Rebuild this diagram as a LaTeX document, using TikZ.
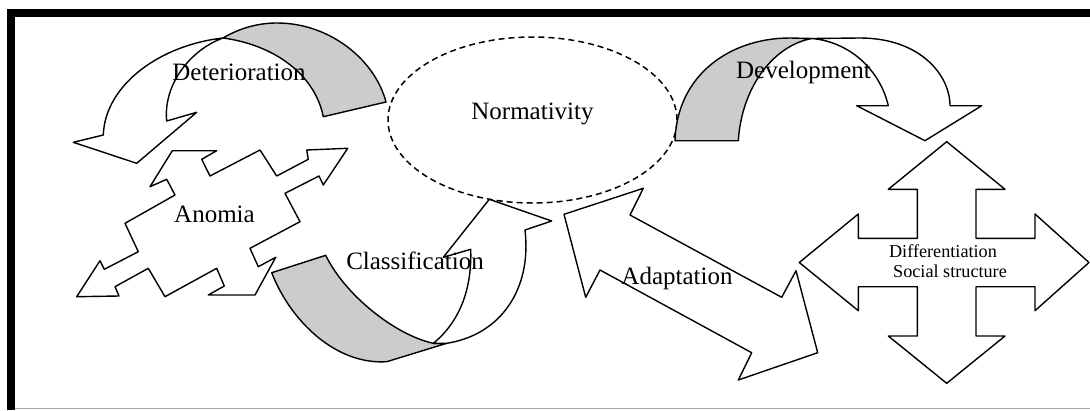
\documentclass[tikz,border=0pt]{standalone}
\usepackage{fontspec}
\setmainfont{Liberation Serif}[Ligatures=NoCommon]
\begin{document}
\begin{tikzpicture}[x=1pt,y=-1pt,
  front/.style={draw=black,line width=1.4pt,fill=white,line join=round},
  back/.style={front,fill=gray!40},
  lbl/.style={anchor=base,inner sep=0pt,font=\fontsize{25}{28}\selectfont},
  slbl/.style={anchor=base,inner sep=0pt,font=\fontsize{18.2}{20}\selectfont}]
\useasboundingbox (0,0) rectangle (1090,410);
\fill[white] (0,0) rectangle (1090,410);
% frame
\fill[black] (7,9) rectangle (1090,17);
\fill[black] (7,9) rectangle (15,410);
\draw[gray!70,line width=1.5pt] (15,408.7) -- (1090,408.7);
% Normativity ellipse
\draw[dashed,line width=1.5pt,dash pattern=on 6pt off 4pt] (532.5,120) ellipse [x radius=144.5pt,y radius=83pt];
% Deterioration
\draw[back] (323.3,116.7) .. controls (315,75) and (275,45) .. (223,38)
  .. controls (240,28) and (258,23) .. (277,23)
  .. controls (330,23) and (375,60) .. (386,102) -- cycle;
\draw[front] (73.3,142.3) -- (136.7,163.3) -- (196.7,112.3) -- (166.7,121)
  .. controls (163,85) and (190,50) .. (223,38)
  .. controls (160,45) and (105,85) .. (103.3,135) -- cycle;
% Development
\draw[back] (675,140.7) .. controls (677,75) and (730,38) .. (790,38) -- (812,38.5)
  .. controls (775,45) and (742,85) .. (738.3,140.7) -- cycle;
\draw[front] (860,38) .. controls (920,38) and (950,75) .. (950,105.7) -- (981.7,105.7)
  -- (925,140.7) -- (856.7,105.7) -- (888.3,105.7)
  .. controls (880,70) and (850,42) .. (812,38.5) -- cycle;
% Classification
\draw[back] (271.7,272.7) .. controls (290,320) and (335,365) .. (386.7,361.7)
  -- (446.7,343.3) -- (433.3,343.3)
  .. controls (395,335) and (345,295) .. (325.7,255.3) -- cycle;
\draw[front] (443.3,257.3) -- (489.3,199.3) -- (551.7,221) -- (525,230)
  .. controls (532,290) and (500,335) .. (446.7,343.3) -- (433.3,343.3)
  .. controls (462,320) and (472,285) .. (470.7,249.3) -- cycle;
% Anomia
\draw[front] (172.3,150.7) -- (216.7,150.7) -- (201.7,159.3) -- (210,176) -- (260,150)
  -- (276.7,176) -- (308.3,159.3) -- (306.7,150) -- (347.7,148.3) -- (323.3,185)
  -- (319,176) -- (285,193.3) -- (300,221.7) -- (250,248.3) -- (258.3,266.7)
  -- (275.7,257.3) -- (255,295) -- (208.3,295) -- (224.3,286) -- (216.7,268.3)
  -- (165,296.7) -- (148.3,268.3) -- (115,286.7) -- (119,296) -- (76.7,296.7)
  -- (100,260.7) -- (104.3,269.3) -- (138.3,251.7) -- (125,223.3) -- (175,195)
  -- (166.7,179.3) -- (150,186.7) -- cycle;
% Adaptation
\draw[front] (564,214.3) -- (643.3,188.3) -- (630,215) -- (781.7,297.3) -- (796,270.7)
  -- (817.7,352.7) -- (738.3,380) -- (751.7,352.7) -- (600,270) -- (585.7,297.3) -- cycle;
% Differentiation cross
\draw[front] (946.7,141.7) -- (1005,189.3) -- (976,189.3) -- (976,238.3) -- (1035,238.3)
  -- (1035,214) -- (1089,262.5) -- (1035,310.7) -- (1035,286.7) -- (976,286.7)
  -- (976,336) -- (1005,336) -- (946.7,383.3) -- (888.3,336) -- (917.3,336)
  -- (917.3,286.7) -- (858.3,286.7) -- (858.3,310.7) -- (799.3,262.5) -- (858.3,214)
  -- (858.3,238.3) -- (917.3,238.3) -- (917.3,189.3) -- (888.3,189.3) -- cycle;
% labels
\node[lbl] (det) at (239,80.7) {Deterioration};
\node[lbl] (norm) at (532.5,119) {Normativity};
\node[lbl] (anom) at (214.5,222) {Anomia};
\node[lbl] (clas) at (415,269) {Classification};
\node[lbl] (adap) at (677,284) {Adaptation};
\node[lbl] (dev) at (803.5,78) {Development};
\node[slbl] (diff) at (943,257) {Differentiation};
\node[slbl] (soc) at (950,277) {Social structure};
\end{tikzpicture}
\end{document}
